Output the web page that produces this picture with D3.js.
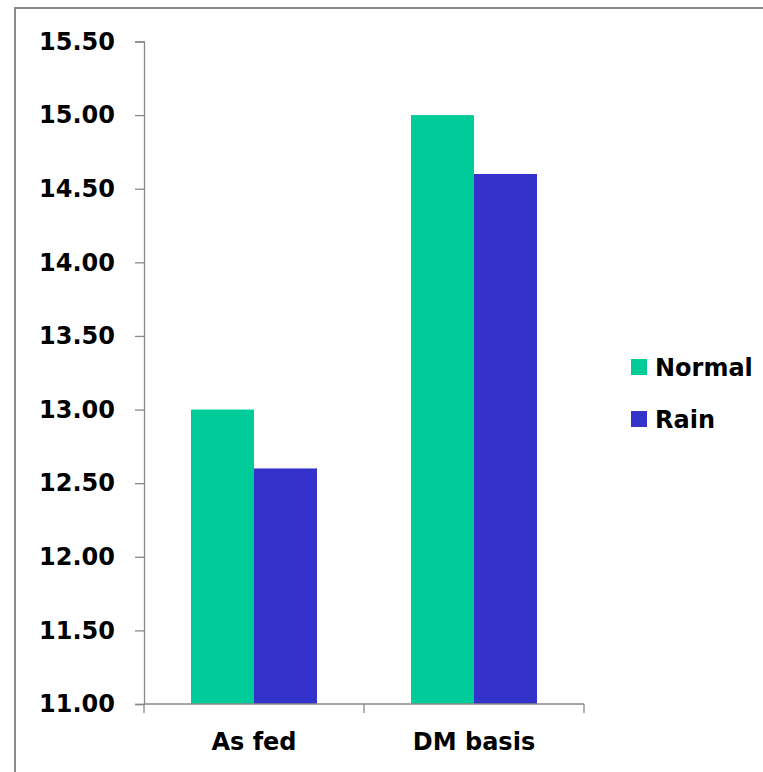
<!DOCTYPE html>
<html>
<head>
<meta charset="utf-8">
<script src="https://cdn.jsdelivr.net/npm/d3@7/dist/d3.min.js"></script>
<style>
  html, body { margin: 0; padding: 0; background: #fff; }
  svg { display: block; }
  text { font-family: "DejaVu Sans", Verdana, sans-serif; font-weight: bold; fill: #000; }
</style>
</head>
<body>
<svg id="chart" width="763" height="772"></svg>
<script>
// Chart data
const categories = ["As fed", "DM basis"];
const seriesNames = ["Normal", "Rain"];
const normalValues = [13.0, 15.0];
const rainValues = [12.6, 14.6];
const seriesColors = ["#00CC99", "#3333CC"];
const yTicks = [11.0, 11.5, 12.0, 12.5, 13.0, 13.5, 14.0, 14.5, 15.0, 15.5];

const svg = d3.select("#chart");
const W = 763, H = 772;
const plot = { left: 144, right: 584, top: 41.5, bottom: 704 };

// Outer frame (runs past the right and bottom edges of the page)
svg.append("rect")
  .attr("x", 15).attr("y", 8)
  .attr("width", W + 20).attr("height", H + 20)
  .attr("fill", "none").attr("stroke", "#8a8a8a").attr("stroke-width", 2);

const x0 = d3.scaleBand().domain(categories).range([plot.left, plot.right]).paddingInner(0).paddingOuter(0);
const x1 = d3.scaleBand().domain(seriesNames).range([0, x0.bandwidth()]).paddingInner(0).paddingOuter(0.746);
const y = d3.scaleLinear().domain([11, 15.5]).range([plot.bottom, plot.top]);

const rows = categories.map((c, i) => ({ cat: c, values: [normalValues[i], rainValues[i]] }));

// Bars
const groups = svg.append("g").selectAll("g").data(rows).join("g")
  .attr("transform", d => `translate(${x0(d.cat)},0)`);
groups.selectAll("rect")
  .data(d => d.values.map((v, j) => ({ name: seriesNames[j], value: v, color: seriesColors[j] })))
  .join("rect")
  .attr("x", d => x1(d.name))
  .attr("width", x1.bandwidth())
  .attr("y", d => y(d.value))
  .attr("height", d => y(11) - y(d.value))
  .attr("fill", d => d.color);

// Y axis
const yAxis = d3.axisLeft(y).tickValues(yTicks).tickFormat(d3.format(".2f")).tickSizeOuter(0).tickSize(9).tickPadding(20);
const gy = svg.append("g").attr("transform", `translate(${plot.left},0)`).call(yAxis);
gy.selectAll("path, line").attr("stroke", "#888").attr("stroke-width", 1.3);
gy.selectAll("text").attr("font-size", 24).attr("font-family", "DejaVu Sans").attr("font-weight", "bold").attr("fill", "#000");

// X axis with tick marks at category boundaries
const xAxis = svg.append("g").attr("transform", `translate(0,${plot.bottom})`);
xAxis.append("line")
  .attr("x1", plot.left).attr("x2", plot.right)
  .attr("stroke", "#888").attr("stroke-width", 1.3);
const boundaries = [plot.left].concat(categories.map(c => x0(c) + x0.bandwidth()));
xAxis.selectAll("line.tick").data(boundaries).join("line")
  .attr("class", "tick")
  .attr("x1", d => d).attr("x2", d => d)
  .attr("y1", 0).attr("y2", 9)
  .attr("stroke", "#888").attr("stroke-width", 1.3);
xAxis.selectAll("text").data(categories).join("text")
  .attr("x", d => x0(d) + x0.bandwidth() / 2)
  .attr("y", 46)
  .attr("text-anchor", "middle")
  .attr("font-size", 24)
  .text(d => d);

// Legend
const legend = svg.append("g").attr("transform", "translate(631,359)");
const items = legend.selectAll("g").data(seriesNames).join("g")
  .attr("transform", (d, i) => `translate(0,${i * 52})`);
items.append("rect").attr("width", 16).attr("height", 16)
  .attr("fill", (d, i) => seriesColors[i]);
items.append("text").attr("x", 24).attr("y", 17).attr("font-size", 24).text(d => d);
</script>
</body>
</html>
